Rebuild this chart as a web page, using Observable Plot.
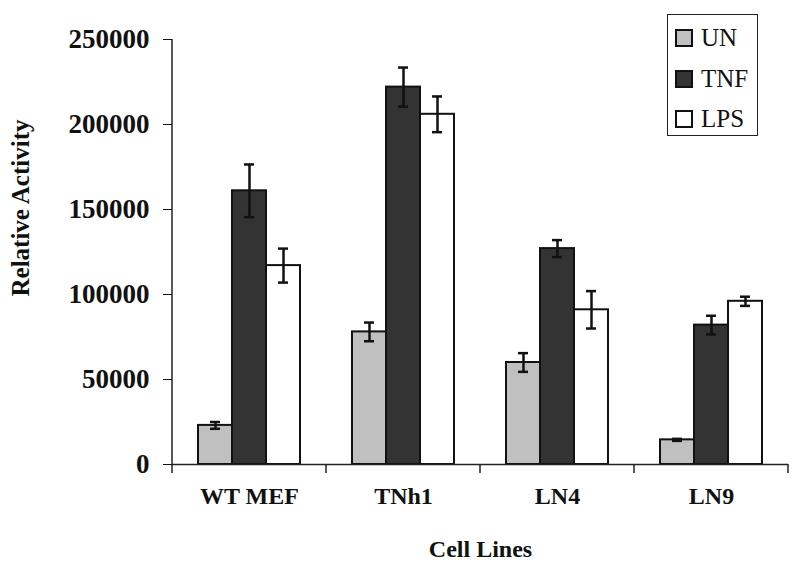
<!DOCTYPE html>
<html>
<head>
<meta charset="utf-8">
<script src="https://cdn.jsdelivr.net/npm/d3@7"></script>
<script src="https://cdn.jsdelivr.net/npm/@observablehq/plot@0.6"></script>
<style>
  html, body { margin: 0; padding: 0; background: #fff; }
  #wrap { position: relative; width: 800px; height: 572px; font-family: "Liberation Serif", "Times New Roman", serif; }
  #legend { position: absolute; left: 667px; top: 14px; width: 89px; height: 120px; border: 1.5px solid #222; background: #fff; box-sizing: content-box; }
  .item { position: absolute; left: 7px; height: 24px; display: flex; align-items: center; font-size: 25px; color: #111; }
  .sw { width: 14px; height: 14px; border: 2px solid #111; margin-right: 8px; }
  #ylabel { position: absolute; left: 21px; top: 208px; transform: translate(-50%, -50%) rotate(-90deg); white-space: nowrap; font-size: 25px; font-weight: bold; color: #111; }
</style>
</head>
<body>
<div id="wrap"><div id="chart"></div><div id="legend"></div><div id="ylabel"></div></div>
<script>
const cellLines = ["WT MEF", "TNh1", "LN4", "LN9"];
const treatments = ["UN", "TNF", "LPS"];
const colors = ["#c0c0c0", "#333333", "#ffffff"];
const unValues = [23000, 78000, 60000, 14500];
const unErrors = [2000, 5500, 5500, 600];
const tnfValues = [161000, 222000, 127000, 82000];
const tnfErrors = [15500, 11500, 5000, 5500];
const lpsValues = [117000, 206000, 91000, 96000];
const lpsErrors = [10000, 10500, 11000, 2700];
const yTicks = [0, 50000, 100000, 150000, 200000, 250000];
const yLabel = "Relative Activity";
const xLabel = "Cell Lines";

const series = [unValues, tnfValues, lpsValues];
const errors = [unErrors, tnfErrors, lpsErrors];
const data = [];
cellLines.forEach((c, i) => treatments.forEach((t, j) => data.push({
  cell: c, treatment: t, value: series[j][i], lo: series[j][i] - errors[j][i], hi: series[j][i] + errors[j][i]
})));

const font = "Liberation Serif, Times New Roman, serif";

// y axis line and facet boundary ticks, drawn once over the whole facet area
function frameLines() {
  return Plot.frame({
    facet: "super",
    render(index, scales, values, dims) {
      const left = dims.marginLeft, right = dims.width - dims.marginRight;
      const top = dims.marginTop, bottom = dims.height - dims.marginBottom;
      const step = (right - left) / cellLines.length;
      const g = d3.create("svg:g").attr("stroke", "#222").attr("stroke-width", 1.5);
      g.append("line").attr("x1", left).attr("x2", left).attr("y1", top).attr("y2", bottom);
      for (let k = 0; k <= cellLines.length; ++k) {
        const x = left + k * step;
        g.append("line").attr("x1", x).attr("x2", x).attr("y1", bottom).attr("y2", bottom + 9);
      }
      return g.node();
    }
  });
}
// fallback: per-facet boundary ticks
function edgeTicks() {
  return Plot.ruleY([0], {
    render(index, scales, values, dims) {
      const y0 = dims.height - dims.marginBottom;
      const g = d3.create("svg:g").attr("stroke", "#222").attr("stroke-width", 1.5);
      for (const x of [dims.marginLeft, dims.width - dims.marginRight]) {
        g.append("line").attr("x1", x).attr("x2", x).attr("y1", y0).attr("y2", y0 + 9);
      }
      return g.node();
    }
  });
}

function build(lines) {
  return Plot.plot({
    width: 800,
    height: 572,
    marginLeft: 171,
    marginRight: 11,
    marginTop: 39,
    marginBottom: 108,
    style: { fontFamily: font, background: "transparent", color: "#111" },
    fx: { domain: cellLines, padding: 0, label: null },
    x: { domain: treatments, paddingInner: 0, paddingOuter: 0.74, axis: null },
    y: { domain: [0, 250000] },
    color: { domain: treatments, range: colors },
    marks: [
      Plot.barY(data, { fx: "cell", x: "treatment", y: "value", fill: "treatment", stroke: "#111", strokeWidth: 2 }),
      Plot.ruleX(data, { fx: "cell", x: "treatment", y1: "lo", y2: "hi", stroke: "#111", strokeWidth: 2.5 }),
      Plot.tickY(data, { fx: "cell", x: "treatment", y: "lo", stroke: "#111", strokeWidth: 2.5, insetLeft: 12, insetRight: 12 }),
      Plot.tickY(data, { fx: "cell", x: "treatment", y: "hi", stroke: "#111", strokeWidth: 2.5, insetLeft: 12, insetRight: 12 }),
      Plot.ruleY([0], { stroke: "#222", strokeWidth: 1.5 }),
      lines(),
      Plot.axisY({
        ticks: yTicks, tickFormat: d3.format("d"), tickSize: 9, tickPadding: 14,
        fontSize: 27, fontWeight: "bold", fontFamily: font, label: null
      }),
      Plot.axisFx({
        anchor: "bottom", tickSize: 0, tickPadding: 22, fontSize: 24, fontWeight: "bold", fontFamily: font,
        label: xLabel, labelAnchor: "center", labelArrow: "none", labelOffset: 92
      })
    ]
  });
}
let chart;
try { chart = build(frameLines); } catch (e) { console.warn(e); chart = build(edgeTicks); }
document.getElementById("chart").appendChild(chart);
document.getElementById("ylabel").textContent = yLabel;

const legend = document.getElementById("legend");
treatments.forEach((t, j) => {
  const item = document.createElement("div");
  item.className = "item";
  item.style.top = (11 + j * 40.5) + "px";
  const sw = document.createElement("div");
  sw.className = "sw";
  sw.style.background = colors[j];
  item.appendChild(sw);
  item.appendChild(document.createTextNode(t));
  legend.appendChild(item);
});
</script>
</body>
</html>
